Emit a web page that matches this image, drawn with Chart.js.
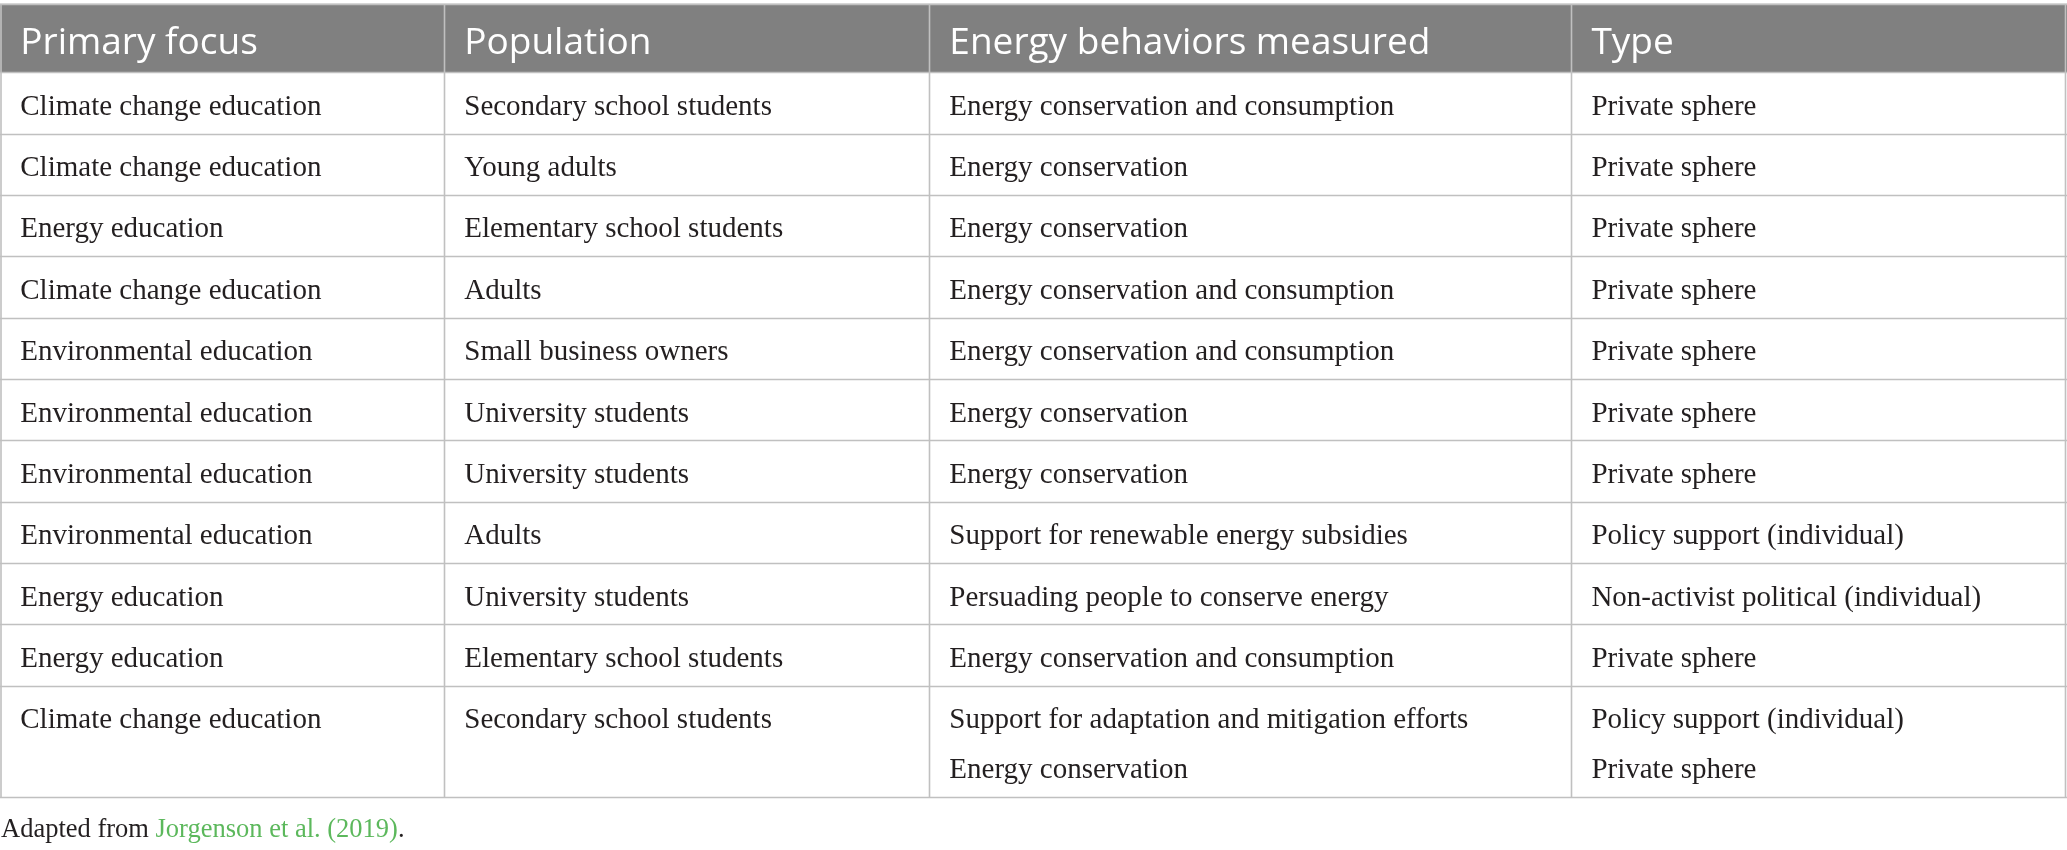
<!DOCTYPE html>
<html>
<head>
<meta charset="utf-8">
<script src="https://cdn.jsdelivr.net/npm/chart.js@4"></script>
<style>
  html, body { margin: 0; padding: 0; background: #ffffff; }
  #wrap { width: 2067px; height: 850px; position: relative; }
</style>
</head>
<body>
<div id="wrap"><canvas id="tableChart"></canvas></div>
<script>
// table content
const headers = ['Primary focus', 'Population', 'Energy behaviors measured', 'Type'];

const primaryFocus = [
    'Climate change education', 'Climate change education', 'Energy education',
    'Climate change education', 'Environmental education', 'Environmental education',
    'Environmental education', 'Environmental education', 'Energy education',
    'Energy education', 'Climate change education'
];

const population = [
    'Secondary school students', 'Young adults', 'Elementary school students',
    'Adults', 'Small business owners', 'University students',
    'University students', 'Adults', 'University students',
    'Elementary school students', 'Secondary school students'
];

const behaviors = [
    'Energy conservation and consumption', 'Energy conservation', 'Energy conservation',
    'Energy conservation and consumption', 'Energy conservation and consumption', 'Energy conservation',
    'Energy conservation', 'Support for renewable energy subsidies', 'Persuading people to conserve energy',
    'Energy conservation and consumption',
    ['Support for adaptation and mitigation efforts', 'Energy conservation']
];

const types = [
    'Private sphere', 'Private sphere', 'Private sphere',
    'Private sphere', 'Private sphere', 'Private sphere',
    'Private sphere', 'Policy support (individual)', 'Non-activist political (individual)',
    'Private sphere',
    ['Policy support (individual)', 'Private sphere']
];

const captionText = 'Adapted from ';
const captionLink = 'Jorgenson et al. (2019)';

// layout (fractions of width, y in text-line units)
const colWidths = [0.2148, 0.2347, 0.3106, 0.2399];
const layout = {
    top: 0.075, headerH: 1.37, rowPad: 0.227, captionGap: 0.8, yMax: 17,
    padX: 0.0098, bodyBase: 0.85, headerBase: 1.0
};

const columns = [primaryFocus, population, behaviors, types];
const toLines = v => Array.isArray(v) ? v : [v];

function buildTable() {
    const xEdges = [0];
    colWidths.forEach(w => xEdges.push(xEdges[xEdges.length - 1] + w));
    const rows = primaryFocus.map((_, i) => columns.map(col => toLines(col[i])));
    const yEdges = [layout.top, layout.top + layout.headerH];
    rows.forEach(r => {
        const n = Math.max(...r.map(c => c.length));
        yEdges.push(yEdges[yEdges.length - 1] + n + layout.rowPad);
    });
    return { xEdges, yEdges, rows };
}

const tablePlugin = {
    id: 'tablePlugin',
    afterDraw(chart) {
        const { ctx, scales: { x, y } } = chart;
        const t = buildTable();
        const px = v => x.getPixelForValue(v);
        const py = v => y.getPixelForValue(v);
        const left = px(t.xEdges[0]), right = px(t.xEdges[t.xEdges.length - 1]);
        const top = py(t.yEdges[0]), bottom = py(t.yEdges[t.yEdges.length - 1]);

        ctx.save();
        // header band
        ctx.fillStyle = '#808080';
        ctx.fillRect(left, top, right - left, py(t.yEdges[1]) - top);

        ctx.textAlign = 'left';
        ctx.textBaseline = 'alphabetic';
        ctx.fillStyle = '#ffffff';
        ctx.font = '37px "Open Sans"';
        headers.forEach((h, c) => {
            ctx.fillText(h, px(t.xEdges[c] + layout.padX), py(t.yEdges[0] + layout.headerBase));
        });

        // body cells
        ctx.fillStyle = '#231f20';
        ctx.font = '29px "Liberation Serif"';
        t.rows.forEach((r, i) => {
            const rowTop = t.yEdges[i + 1];
            r.forEach((lines, c) => {
                lines.forEach((line, k) => {
                    ctx.fillText(line, px(t.xEdges[c] + layout.padX), py(rowTop + layout.bodyBase + k));
                });
            });
        });

        // grid lines
        ctx.strokeStyle = '#c0c0c0';
        ctx.lineWidth = 1.6;
        ctx.beginPath();
        t.yEdges.forEach(v => {
            const yy = Math.round(py(v)) + 0.5;
            ctx.moveTo(left, yy); ctx.lineTo(right, yy);
        });
        t.xEdges.forEach((v, i) => {
            let xx = Math.round(px(v)) + 0.5;
            if (i === 0) xx = left + 1;
            if (i === t.xEdges.length - 1) xx = right - 1.5;
            ctx.moveTo(xx, top); ctx.lineTo(xx, bottom);
        });
        ctx.stroke();

        // caption
        const capY = py(t.yEdges[t.yEdges.length - 1] + layout.captionGap);
        ctx.font = '26.5px "Liberation Serif"';
        ctx.fillStyle = '#231f20';
        ctx.fillText(captionText, left + 1, capY);
        const w1 = ctx.measureText(captionText).width;
        ctx.fillStyle = '#5cb85c';
        ctx.fillText(captionLink, left + 1 + w1, capY);
        const w2 = ctx.measureText(captionLink).width;
        ctx.fillStyle = '#231f20';
        ctx.fillText('.', left + 1 + w1 + w2, capY);
        ctx.restore();
    }
};

function initTableChart() {
    const ctx = document.getElementById('tableChart').getContext('2d');
    return new Chart(ctx, {
        type: 'scatter',
        data: { datasets: [] },
        options: {
            responsive: true,
            maintainAspectRatio: false,
            animation: false,
            layout: { padding: 0 },
            plugins: { legend: { display: false }, tooltip: { enabled: false } },
            scales: {
                x: { type: 'linear', min: 0, max: 1, display: false },
                y: { type: 'linear', min: 0, max: layout.yMax, reverse: true, display: false }
            }
        },
        plugins: [tablePlugin]
    });
}

document.addEventListener('DOMContentLoaded', function() {
    initTableChart();
});
</script>
</body>
</html>
